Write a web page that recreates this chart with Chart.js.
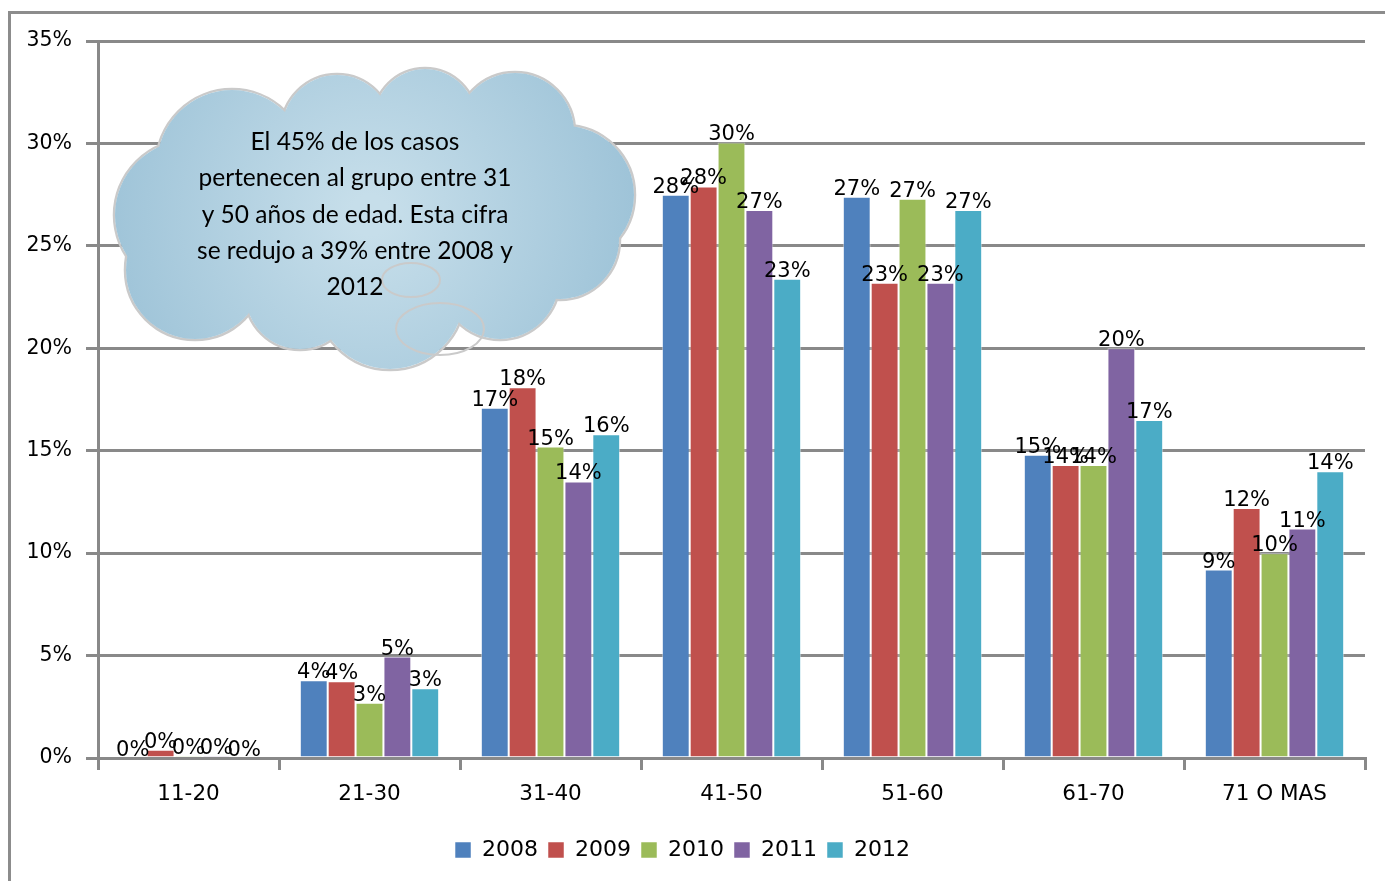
<!DOCTYPE html>
<html lang="es">
<head>
  <meta charset="UTF-8" />
  <title>Casos por grupo de edad 2008-2012</title>
  <script src="https://cdn.jsdelivr.net/npm/chart.js"></script>
  <style>
    * {
      margin: 0;
      padding: 0;
      box-sizing: border-box;
    }

    body {
      background-color: #fff;
      width: 1385px;
      height: 881px;
      overflow: hidden;
      position: relative;
    }

    .frame {
      position: absolute;
      left: 8px;
      top: 11px;
      width: 1400px;
      height: 900px;
      border-left: 3px solid #8c8c8c;
      border-top: 3px solid #8c8c8c;
    }

    .chart-box {
      position: absolute;
      left: 0;
      top: 0;
      width: 1385px;
      height: 881px;
    }
  </style>
</head>
<body>
  <div class="frame"></div>
  <div class="chart-box">
    <canvas id="edadChart"></canvas>
  </div>

  <script>
    const grupos = ['11-20', '21-30', '31-40', '41-50', '51-60', '61-70', '71 O MAS'];
    const years = ['2008', '2009', '2010', '2011', '2012'];
    const colors = ['#4F81BD', '#C0504D', '#9BBB59', '#8064A2', '#4BACC6'];

    // values in percent
    const v2008 = [0, 3.8, 17.1, 27.5, 27.4, 14.8, 9.2];
    const v2009 = [0.4, 3.75, 18.1, 27.9, 23.2, 14.3, 12.2];
    const v2010 = [0.1, 2.7, 15.2, 30.05, 27.3, 14.3, 10.0];
    const v2011 = [0.1, 4.95, 13.5, 26.75, 23.2, 20.0, 11.2];
    const v2012 = [0, 3.4, 15.8, 23.4, 26.75, 16.5, 14.0];
    const series = [v2008, v2009, v2010, v2011, v2012];

    const yTicks = [0, 5, 10, 15, 20, 25, 30, 35];

    const nota = [
      'El 45% de los casos',
      'pertenecen al grupo entre 31',
      'y 50 años de edad. Esta cifra',
      'se redujo a 39% entre 2008 y',
      '2012'
    ];

    const gray = '#898989';

    // value labels above each bar
    const barLabels = {
      id: 'barLabels',
      afterDatasetsDraw(chart) {
        const ctx = chart.ctx;
        ctx.save();
        ctx.font = '21px "DejaVu Sans"';
        ctx.fillStyle = '#000';
        ctx.textAlign = 'center';
        ctx.textBaseline = 'alphabetic';
        chart.data.datasets.forEach((ds, i) => {
          chart.getDatasetMeta(i).data.forEach((bar, j) => {
            ctx.fillText(Math.round(ds.data[j]) + '%', bar.x, bar.y - 2);
          });
        });
        ctx.restore();
      }
    };

    // the cloud callout
    const cloud = {
      id: 'cloud',
      afterDraw(chart) {
        const ctx = chart.ctx;
        const circles = [
          [232, 165, 76], [337, 130, 56], [425, 120, 52], [515, 132, 60],
          [565, 195, 70], [560, 240, 60], [190, 215, 76], [195, 270, 70],
          [300, 295, 55], [390, 295, 75], [500, 280, 60]
        ];
        const grad = ctx.createRadialGradient(370, 215, 20, 370, 215, 280);
        grad.addColorStop(0, '#C6DEEA');
        grad.addColorStop(1, '#9CC2D7');

        ctx.save();
        ctx.lineWidth = 2.5;
        ctx.strokeStyle = '#CACACA';
        circles.forEach(c => {
          ctx.beginPath();
          ctx.arc(c[0], c[1], c[2], 0, Math.PI * 2);
          ctx.stroke();
        });
        ctx.fillStyle = grad;
        circles.forEach(c => {
          ctx.beginPath();
          ctx.arc(c[0], c[1], c[2] - 1, 0, Math.PI * 2);
          ctx.fill();
        });
        ctx.beginPath();
        ctx.ellipse(370, 215, 210, 110, 0, 0, Math.PI * 2);
        ctx.fill();

        // little inner bubbles
        ctx.lineWidth = 2;
        ctx.beginPath();
        ctx.ellipse(440, 329, 44, 26, 0, 0, Math.PI * 2);
        ctx.stroke();
        ctx.beginPath();
        ctx.ellipse(411, 280, 29, 17, 0, 0, Math.PI * 2);
        ctx.stroke();

        ctx.fillStyle = '#000';
        ctx.font = '24.5px Lato';
        ctx.textAlign = 'center';
        ctx.textBaseline = 'middle';
        nota.forEach((line, k) => {
          ctx.fillText(line, 355, 142 + k * 36.3);
        });
        ctx.restore();
      }
    };

    new Chart(document.getElementById('edadChart').getContext('2d'), {
      type: 'bar',
      data: {
        labels: grupos,
        datasets: years.map((y, i) => ({
          label: y,
          data: series[i],
          backgroundColor: colors[i],
          borderColor: 'rgba(255,255,255,0.5)',
          borderWidth: 1,
          categoryPercentage: 0.77,
          barPercentage: 1
        }))
      },
      options: {
        responsive: true,
        maintainAspectRatio: false,
        animation: false,
        layout: {
          padding: { top: 41, right: 20, left: 0, bottom: 10 }
        },
        plugins: {
          legend: {
            position: 'bottom',
            labels: {
              color: '#000',
              boxWidth: 16,
              boxHeight: 16,
              padding: 10,
              font: { family: 'DejaVu Sans', size: 22 }
            }
          },
          tooltip: { enabled: false }
        },
        scales: {
          x: {
            afterFit: s => { s.height = 71; },
            grid: {
              offset: true,
              drawOnChartArea: false,
              drawTicks: true,
              tickLength: 12,
              color: gray,
              lineWidth: 3
            },
            border: { color: gray, width: 3 },
            ticks: {
              color: '#000',
              padding: 12,
              font: { family: 'DejaVu Sans', size: 21.5 }
            }
          },
          y: {
            min: 0,
            max: 35,
            afterFit: s => { s.width = 98; },
            afterBuildTicks: s => { s.ticks = yTicks.map(v => ({ value: v })); },
            grid: {
              color: gray,
              lineWidth: 3,
              tickLength: 12
            },
            border: { color: gray, width: 3 },
            ticks: {
              color: '#000',
              padding: 14,
              font: { family: 'DejaVu Sans', size: 20.5 },
              callback: v => v + '%'
            }
          }
        }
      },
      plugins: [barLabels, cloud]
    });
  </script>
</body>
</html>
